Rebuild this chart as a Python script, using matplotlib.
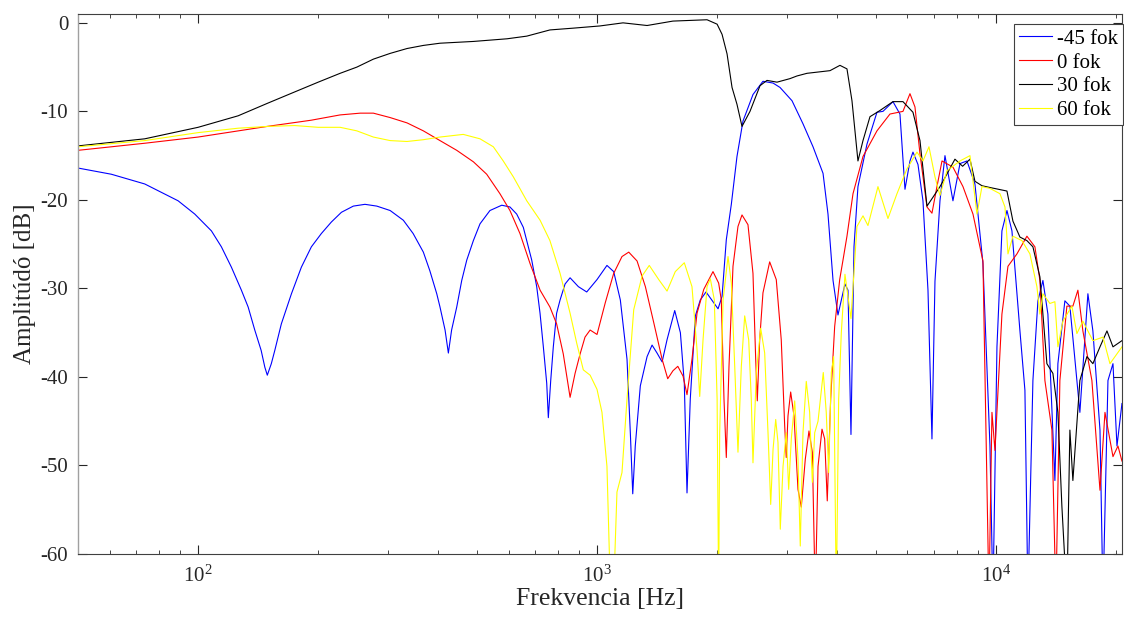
import numpy as np
import matplotlib
matplotlib.use("Agg")
import matplotlib.pyplot as plt
from matplotlib.ticker import LogLocator, NullFormatter

# frequency response of the speaker at four angles (Hz, dB)
f_m45 = [50, 60.6, 73.5, 89.1, 98.1, 108, 114.4, 121.2, 128.4, 133.5, 138.7, 143.9, 147,
         149.1, 152.6, 155.7, 161.7, 171.4, 181.5, 192.3, 203.7, 215.8, 228.7, 245, 262,
         280.5, 303, 327, 346, 367, 381, 396.5, 404, 416, 424, 432, 445, 458, 471.5, 489.8,
         509, 539, 577, 605, 629, 653.5, 666.6, 686, 706, 719.7, 733.6, 748, 755, 765.5, 777,
         792, 808, 831.6, 856, 898, 942.3, 1000, 1059, 1101, 1144, 1189, 1212, 1229, 1247,
         1284, 1335, 1374, 1414, 1456, 1498, 1566, 1618, 1655, 1681, 1713, 1764, 1815, 1876,
         1961, 2011, 2058, 2109, 2171, 2243, 2322, 2460, 2606, 2762, 2876, 3082, 3283, 3479,
         3686, 3793, 3905, 4018, 4183, 4257, 4331, 4407, 4509, 4750, 5032, 5209, 5519, 5746,
         5915, 6088, 6194, 6376, 6562, 6755, 6912, 7033, 7239, 7451, 7802, 8125, 8459, 8859,
         9277, 9660, 9829, 10058, 10351, 10656, 10967, 11485, 11820, 12027, 12378, 12741,
         13113, 13496, 14053, 14298, 14886, 15323, 16233, 17001, 17498, 18230, 18547, 19089,
         19649, 20108, 20695]
db_m45 = [-16.4, -17.1, -18.2, -20.1, -21.6, -23.5, -25.3, -27.6, -30.2, -32.1, -34.7, -37.0,
          -38.9, -39.8, -38.5, -37.0, -34.0, -30.6, -27.6, -25.3, -23.8, -22.5, -21.4, -20.7,
          -20.5, -20.7, -21.2, -22.3, -23.8, -25.9, -28.0, -30.6, -32.1, -34.7, -37.3, -34.7,
          -32.1, -29.1, -26.8, -24.6, -22.7, -21.2, -20.6, -20.8, -21.6, -23.1, -24.6, -26.8,
          -29.8, -32.8, -36.6, -40.7, -44.6, -40.4, -36.6, -32.8, -31.3, -29.5, -28.8, -29.8,
          -30.4, -29.0, -27.4, -28.1, -31.3, -38.0, -46.3, -53.2, -47.8, -41.0, -37.7, -36.4,
          -37.3, -38.3, -35.8, -32.5, -35.0, -40.7, -53.1, -42.5, -33.1, -31.3, -30.4, -31.6,
          -32.3, -30.9, -24.5, -20.5, -15.1, -11.1, -8.1, -6.6, -6.8, -7.3, -8.8, -11.4, -14.0,
          -17.0, -21.6, -29.1, -33.0, -29.5, -30.2, -46.5, -25.3, -18.5, -13.7, -10.1, -10.0,
          -8.9, -10.3, -18.8, -15.6, -14.6, -16.0, -20.1, -30.2, -47.0, -29.2, -20.1, -15.0,
          -20.1, -15.9, -15.6, -18.2, -27.2, -47.8, -65.0, -36.6, -23.5, -21.2, -23.5, -34.8,
          -41.5, -65.0, -40.4, -31.4, -29.1, -32.9, -51.7, -38.5, -31.4, -32.0, -44.0, -30.6,
          -34.8, -46.0, -65.0, -40.4, -38.5, -47.8, -43.0]

f_0 = [50, 73.5, 100, 149, 192, 227, 255, 275, 303, 334, 367, 404, 445, 490, 529, 571, 605,
       641, 679.5, 720, 762, 792, 823, 856, 881, 907, 933, 961, 1000, 1049, 1101, 1155, 1201,
       1260, 1322, 1388, 1456, 1504, 1550, 1594, 1643, 1681, 1730, 1781, 1852, 1953, 2018,
       2049, 2081, 2109, 2142, 2192, 2256, 2309, 2390, 2460, 2499, 2522, 2557, 2606, 2709,
       2814, 2896, 2954, 2981, 3011, 3058, 3117, 3190, 3251, 3327, 3399, 3465, 3525, 3581,
       3664, 3721, 3777, 3852, 3942, 4058, 4136, 4232, 4382, 4642, 5032, 5424, 5847, 6088,
       6266, 6450, 6716, 6912, 7114, 7324, 7802, 8267, 8758, 9277, 9605, 9772, 9943, 10351,
       10718, 11287, 11957, 12522, 12888, 13265, 13813, 14134, 14463, 15058, 15590, 16047,
       16516, 17398, 18230, 18762, 19649, 20224, 20695]
db_0 = [-14.4, -13.6, -12.9, -11.7, -11.0, -10.4, -10.2, -10.2, -10.7, -11.3, -12.2, -13.3,
        -14.4, -15.7, -17.1, -19.3, -21.2, -23.8, -27.2, -30.2, -32.1, -34.0, -37.4, -42.3,
        -39.6, -37.4, -35.5, -34.7, -35.2, -31.6, -28.3, -26.4, -25.9, -26.9, -29.8, -33.9,
        -38.0, -40.2, -39.3, -38.8, -39.9, -42.0, -38.0, -32.8, -30.1, -28.1, -29.4, -31.3,
        -42.5, -49.1, -38.8, -27.5, -23.0, -21.7, -22.8, -28.3, -38.0, -42.7, -35.8, -30.5,
        -27.0, -29.0, -35.8, -45.5, -49.1, -44.4, -41.7, -44.4, -52.7, -54.7, -49.3, -46.1,
        -48.5, -65.0, -50.1, -45.9, -47.0, -54.0, -42.5, -34.3, -29.0, -26.8, -24.1, -19.3,
        -15.1, -12.2, -10.3, -10.0, -8.0, -9.5, -14.8, -20.8, -21.5, -18.5, -15.6, -16.3,
        -18.5, -21.6, -26.9, -65.0, -44.0, -48.3, -32.9, -27.5, -26.1, -24.1, -25.3, -29.1,
        -40.4, -46.0, -65.0, -40.4, -32.0, -32.0, -30.2, -34.8, -40.4, -52.8, -44.0, -49.0,
        -47.8, -49.5]

f_30 = [50, 73.5, 100, 126, 149, 174.7, 200, 227, 250, 275, 303, 334, 367, 404, 490, 595,
        666.6, 762, 871, 1017, 1162, 1335, 1550, 1887, 2000, 2058, 2118, 2180, 2243, 2309,
        2418, 2562, 2667, 2826, 3046, 3171, 3360, 3837, 4064, 4232, 4356, 4509, 4642, 4833,
        5120, 5519, 5847, 6194, 6450, 6716, 6952, 7239, 7366, 7892, 8250, 8607, 8859, 9224,
        9660, 10656, 11030, 11485, 11957, 12378, 12888, 13418, 13892, 14298, 14631, 15058,
        15323, 15590, 16233, 16904, 17498, 18230, 18979, 19649, 20695]
db_30 = [-13.9, -13.1, -11.8, -10.5, -9.1, -7.8, -6.7, -5.7, -5.0, -4.1, -3.45, -2.9, -2.55,
         -2.3, -2.1, -1.8, -1.5, -0.8, -0.6, -0.35, 0.0, -0.3, 0.2, 0.35, -0.15, -1.3, -3.5,
         -7.3, -9.2, -11.7, -10.0, -7.1, -6.5, -6.7, -6.3, -6.0, -5.7, -5.4, -4.8, -5.2, -8.8,
         -15.6, -13.3, -10.6, -9.9, -8.9, -8.9, -10.1, -13.3, -20.7, -19.7, -18.5, -17.9,
         -15.4, -16.2, -15.4, -17.9, -18.4, -18.6, -19.0, -22.4, -24.2, -24.6, -25.3, -28.7,
         -38.5, -39.6, -44.0, -54.6, -65.0, -46.0, -51.7, -40.4, -37.7, -38.5, -36.6, -34.8,
         -36.6, -35.9]

f_60 = [50, 73.5, 100, 126, 149, 174.7, 200, 227, 250, 275, 303, 334, 367, 404, 462, 509,
        549.7, 582, 617, 666.6, 720, 762, 808, 856, 889.6, 924, 961, 1000, 1029, 1059, 1080,
        1101, 1122, 1155, 1189, 1236, 1297, 1352, 1428, 1498, 1571, 1655, 1730, 1781, 1809,
        1844, 1887, 1923, 1968, 2000, 2018, 2030, 2070, 2130, 2171, 2214, 2256, 2300, 2345,
        2400, 2436, 2460, 2508, 2572, 2632, 2683, 2725, 2762, 2805, 2842, 2880, 2926, 2981,
        3023, 3069, 3130, 3190, 3232, 3283, 3346, 3412, 3465, 3513, 3581, 3691, 3755, 3808,
        3866, 3919, 3979, 4034, 4096, 4136, 4183, 4331, 4483, 4642, 4777, 5061, 5362, 5648,
        5983, 6339, 6562, 6794, 7033, 7239, 7537, 8125, 8607, 8962, 9224, 9660, 10233, 10534,
        10718, 11030, 11618, 12166, 12667, 12888, 13113, 13652, 14053, 14298, 14715, 15500,
        15955, 16516, 17498, 18547, 19309, 20108, 20695]
db_60 = [-14.0, -13.3, -12.4, -11.9, -11.7, -11.6, -11.8, -11.8, -12.2, -12.9, -13.3, -13.4,
         -13.2, -12.9, -12.6, -13.1, -14.0, -15.6, -17.4, -20.1, -22.3, -24.6, -28.3, -32.8,
         -36.2, -39.2, -39.8, -41.4, -44.0, -50.1, -64.0, -64.0, -53.0, -50.8, -42.5, -32.4,
         -28.6, -27.4, -29.0, -30.3, -28.1, -27.1, -29.8, -36.9, -42.2, -35.8, -29.8, -28.9,
         -31.3, -42.5, -65.0, -46.3, -31.3, -26.4, -29.4, -38.8, -48.5, -38.8, -33.1, -35.8,
         -42.5, -49.7, -39.5, -34.5, -37.3, -46.3, -54.4, -48.2, -44.8, -47.4, -57.2, -50.1,
         -46.3, -52.7, -47.0, -42.7, -49.3, -59.1, -46.3, -40.5, -44.0, -51.9, -46.3, -45.0,
         -39.5, -44.0, -50.8, -39.5, -37.7, -65.0, -42.5, -35.0, -32.0, -28.4, -33.4, -23.0,
         -21.8, -22.9, -18.5, -22.1, -19.3, -16.5, -14.6, -15.6, -14.0, -17.4, -19.5, -16.7,
         -15.6, -15.0, -21.6, -18.5, -18.7, -19.3, -20.8, -26.1, -24.1, -24.6, -26.1, -29.8,
         -32.9, -30.6, -31.7, -31.5, -36.6, -33.7, -32.0, -35.1, -33.7, -35.9, -35.5, -38.5,
         -37.4, -36.6]

labels = ["-45 fok", "0 fok", "30 fok", "60 fok"]
colors = ["#0000ff", "#ff0000", "#000000", "#ffff00"]

plt.rcParams["font.family"] = ["Liberation Serif", "DejaVu Serif"]
plt.rcParams["mathtext.fontset"] = "custom"
plt.rcParams["mathtext.rm"] = "Liberation Serif"
plt.rcParams["mathtext.it"] = "Liberation Serif:italic"

fig = plt.figure(figsize=(11.24, 6.26), dpi=100)
ax = fig.add_axes([78 / 1124, 72 / 626, 1044 / 1124, 540 / 626])

series = [(f_m45, db_m45), (f_0, db_0), (f_30, db_30), (f_60, db_60)]
for (f, db), lab, c in zip(series, labels, colors):
    ax.plot(f, db, color=c, lw=0.8, label=lab)

ax.set_xscale("log")
ax.set_xlim(50, 20700)
ax.set_ylim(-60, 1)
ax.set_yticks([0, -10, -20, -30, -40, -50, -60])
ax.set_yticklabels(["0", "-10", "-20", "-30", "-40", "-50", "-60"])
ax.xaxis.set_major_locator(LogLocator(base=10))
ax.xaxis.set_minor_locator(LogLocator(base=10, subs=np.arange(2, 10)))
ax.xaxis.set_minor_formatter(NullFormatter())

ax.tick_params(which="both", direction="in", top=True, right=True,
               colors="#262626", labelsize=15)
ax.tick_params(which="major", length=6.5, width=0.8)
ax.tick_params(which="minor", length=3.2, width=0.6)
ax.tick_params(axis="y", pad=7)
ax.tick_params(axis="x", pad=8)
for side in ["top", "bottom", "right"]:
    ax.spines[side].set_color("#404040")
    ax.spines[side].set_linewidth(0.8)
ax.spines["left"].set_color("#a0a0a0")
ax.spines["left"].set_linewidth(1.0)

ax.set_xlabel("Frekvencia [Hz]", fontsize=18.5, color="#262626", labelpad=1)
ax.set_ylabel("Amplitúdó [dB]", fontsize=18, color="#262626", labelpad=3)

leg = ax.legend(loc="upper right", bbox_to_anchor=(1123 / 1124, 1 - 24 / 626),
                bbox_transform=fig.transFigure, borderaxespad=0, fontsize=15,
                handlelength=1.55, handletextpad=0.25, labelspacing=0.2,
                borderpad=0.25, fancybox=False, framealpha=1)
leg.get_frame().set_edgecolor("#404040")
leg.get_frame().set_linewidth(0.8)

fig.savefig("out.png", dpi=100)
